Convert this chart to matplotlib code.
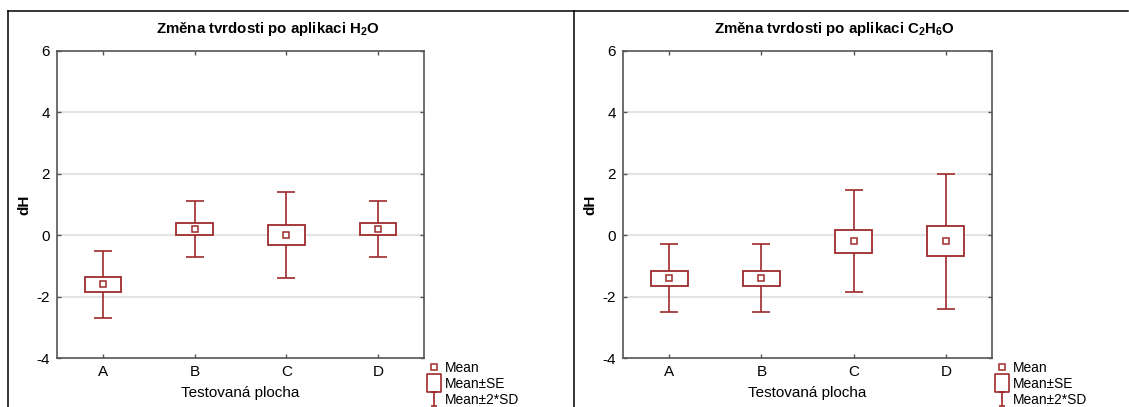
import matplotlib
matplotlib.use("Agg")
import matplotlib.pyplot as plt
from matplotlib.lines import Line2D
from matplotlib.path import Path
import numpy as np

plt.rcParams['font.family'] = ['Liberation Sans', 'DejaVu Sans']
plt.rcParams['mathtext.fontset'] = 'custom'
plt.rcParams['mathtext.rm'] = 'Liberation Sans'
plt.rcParams['mathtext.bf'] = 'Liberation Sans:bold'

categories = ["A", "B", "C", "D"]
titles = ["Změna tvrdosti po aplikaci H$_\\mathbf{2}$O",
          "Změna tvrdosti po aplikaci C$_\\mathbf{2}$H$_\\mathbf{6}$O"]

h2o_mean = [-1.6, 0.2, 0.0, 0.2]
h2o_se = [0.25, 0.2, 0.32, 0.2]
h2o_2sd = [1.1, 0.9, 1.4, 0.9]

eth_mean = [-1.4, -1.4, -0.2, -0.2]
eth_se = [0.24, 0.24, 0.38, 0.49]
eth_2sd = [1.1, 1.1, 1.66, 2.2]

yticks = [-4, -2, 0, 2, 4, 6]
xlabel = "Testovaná plocha"
ylabel = "dH"
legend_labels = ["Mean", "Mean±SE", "Mean±2*SD"]

RED = "#9e2a2b"
W, H = 1129, 407
fig = plt.figure(figsize=(W / 100, H / 100), dpi=100)


def px_axes(l, t, r, b):
    return fig.add_axes([l / W, (H - b) / H, (r - l) / W, (b - t) / H])


# panel frame lines
for xs, ys in [((7.5, 1128), (11, 11)), ((7.5, 7.5), (11, 407)), ((574, 574), (11, 407))]:
    fig.add_artist(Line2D([x / W for x in xs], [1 - y / H for y in ys],
                          color="black", lw=1.1, transform=fig.transFigure))

I_marker = Path([(-0.5, 1), (0.5, 1), (0, 1), (0, -1), (-0.5, -1), (0.5, -1)],
                [Path.MOVETO, Path.LINETO, Path.MOVETO, Path.LINETO, Path.MOVETO, Path.LINETO])
rect_marker = Path([(-0.5, -0.65), (0.5, -0.65), (0.5, 0.65), (-0.5, 0.65), (-0.5, -0.65)],
                   [Path.MOVETO, Path.LINETO, Path.LINETO, Path.LINETO, Path.CLOSEPOLY])

panels = [(57, 424, h2o_mean, h2o_se, h2o_2sd, titles[0]),
          (623, 992, eth_mean, eth_se, eth_2sd, titles[1])]

for l, r, mean, se, sd2, title in panels:
    ax = px_axes(l, 51, r, 358)
    x = np.arange(len(categories))
    mean = np.array(mean); se = np.array(se); sd2 = np.array(sd2)
    ax.set_xlim(-0.5, len(categories) - 0.5)
    ax.set_ylim(-4, 6)
    for g in [-2, 0, 2, 4]:
        ax.axhline(g, color="#e3e3e3", lw=1.5, zorder=0)
    ax.errorbar(x, mean, yerr=sd2, fmt="none", ecolor=RED, elinewidth=1.2,
                capsize=6.8, capthick=1.2, zorder=2)
    ax.bar(x, 2 * se, bottom=mean - se, width=0.4, facecolor="white",
           edgecolor=RED, linewidth=1.3, zorder=3)
    ax.plot(x, mean, "s", ms=4.5, mfc="white", mec=RED, mew=1.1, ls="none", zorder=4)
    ax.set_xticks(x)
    ax.set_xticklabels(categories, fontsize=11)
    ax.set_yticks(yticks)
    ax.set_yticklabels([str(v) for v in yticks], fontsize=11)
    ax.tick_params(direction="in", length=3, width=1, color="#555555",
                   top=True, right=True, pad=5)
    ax.tick_params(axis="y", pad=5)
    for s in ax.spines.values():
        s.set_color("#555555")
        s.set_linewidth(1.2)
    ax.text(0.5 + 27 / (r - l), 1 + 22 / 307, title, transform=ax.transAxes,
            ha="center", va="center", fontsize=10.8, fontweight="bold")
    ax.set_xlabel(xlabel, fontsize=11, labelpad=5)
    ax.set_ylabel(ylabel, fontsize=11, fontweight="bold", labelpad=4)

    handles = [
        Line2D([], [], marker="s", ms=4.5, mfc="white", mec=RED, mew=1.1, ls="none"),
        Line2D([], [], marker=rect_marker, ms=12.5, mfc="white", mec=RED, mew=1.2, ls="none"),
        Line2D([], [], marker=I_marker, ms=10, mfc="none", mec=RED, mew=1.2, ls="none"),
    ]
    ax.legend(handles, legend_labels, loc="upper left",
              bbox_to_anchor=((r + 3 - l) / (r - l), -3 / 307),
              frameon=False, fontsize=9.9, handlelength=1.0, handletextpad=0.3,
              labelspacing=0.14, borderpad=0, borderaxespad=0)

fig.savefig("out.png", dpi=100)
